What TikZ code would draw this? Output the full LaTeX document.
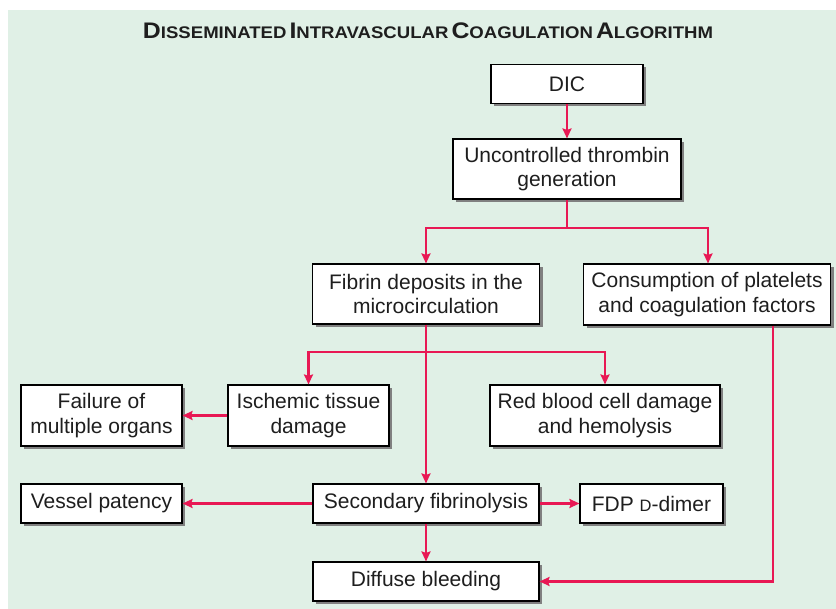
\documentclass[tikz,border=0pt]{standalone}
\usepackage{fontspec}
\usepackage{graphicx}
\setmainfont{Liberation Sans}
\usetikzlibrary{arrows.meta,shadows}

\definecolor{panel}{RGB}{224,240,230}
\definecolor{flow}{RGB}{232,24,84}
\definecolor{ink}{RGB}{30,30,30}
\definecolor{shade}{RGB}{128,128,128}

% bold title letters: large initial, smaller capitals after it
\newcommand{\ttlbig}[1]{{\fontsize{22.5}{24}\selectfont #1}}
\newcommand{\ttlsmall}[1]{{\fontsize{16.8}{18}\selectfont #1}}

\tikzset{
  stepbox/.style={draw=black, line width=1.1pt, fill=white, text=ink,
    inner sep=0pt, align=center,
    font=\fontsize{21}{24.5}\selectfont,
    drop shadow={shadow xshift=3pt, shadow yshift=-3pt, fill=shade, opacity=1}},
  arr/.style={draw=flow, line width=2.4pt,
    -{Stealth[length=10pt,width=9pt,inset=1.5pt]}},
  link/.style={draw=flow, line width=2.4pt}
}

\begin{document}
\begin{tikzpicture}[x=1pt,y=-1pt]
  \useasboundingbox (0,0) rectangle (836,609);
  \fill[panel] (8,10) rectangle (836,609);

  \node[text=ink] (title) at (428,31)
    {\resizebox{570pt}{\height}{\bfseries
      \ttlbig{D}\ttlsmall{ISSEMINATED} \ttlbig{I}\ttlsmall{NTRAVASCULAR}
      \ttlbig{C}\ttlsmall{OAGULATION} \ttlbig{A}\ttlsmall{LGORITHM}}};

  % boxes
  \node[stepbox, minimum width=152pt, minimum height=39pt] (dic) at (567,84) {DIC};
  \node[stepbox, minimum width=228pt, minimum height=60pt] (thr) at (567,169)
    {Uncontrolled thrombin\\generation};
  \node[stepbox, minimum width=227pt, minimum height=60pt] (fib) at (426,294)
    {Fibrin deposits in the\\microcirculation};
  \node[stepbox, minimum width=247pt, minimum height=61pt] (con) at (707,294.5)
    {Consumption of platelets\\and coagulation factors};
  \node[stepbox, minimum width=161pt, minimum height=61pt] (isc) at (308.5,415.5)
    {Ischemic tissue\\damage};
  \node[stepbox, minimum width=161pt, minimum height=61pt] (fail) at (101.5,415.5)
    {Failure of\\multiple organs};
  \node[stepbox, minimum width=230pt, minimum height=61pt] (rbc) at (605,415.5)
    {Red blood cell damage\\and hemolysis};
  \node[stepbox, minimum width=226pt, minimum height=39pt] (sec) at (426,503.5)
    {Secondary fibrinolysis};
  \node[stepbox, minimum width=226pt, minimum height=39pt] (bleed) at (426,581.5)
    {Diffuse bleeding};
  \node[stepbox, minimum width=143pt, minimum height=39pt] (fdp) at (651.5,503.5)
    {FDP {\fontsize{16.5}{18}\selectfont D}-dimer};
  \node[stepbox, minimum width=161pt, minimum height=39pt] (ves) at (101.5,503.5)
    {Vessel patency};

  % branch points
  \coordinate (split1) at (567,228);
  \coordinate (split2) at (426,352);
  \coordinate (drop) at (773,581.5);

  % connectors
  \draw[arr] (dic) -- (thr);
  \draw[link] (thr.south) -- (split1);
  \draw[arr] (split1) -| (fib.north);
  \draw[arr] ([xshift=-1.2pt]split1) -| ([xshift=1pt]con.north);
  \draw[arr] (fib.south) -- (sec.north);
  \draw[arr] (split2) -| (isc.north);
  \draw[arr] (split2) -| (rbc.north);
  \draw[arr] (isc.west) -- (fail.east);
  \draw[arr] (sec.west) -- (ves.east);
  \draw[arr] (sec.east) -- (fdp.west);
  \draw[arr] (sec.south) -- (bleed.north);
  \draw[arr] (con.south -| drop) -- (drop) -- (bleed.east);
\end{tikzpicture}
\end{document}
